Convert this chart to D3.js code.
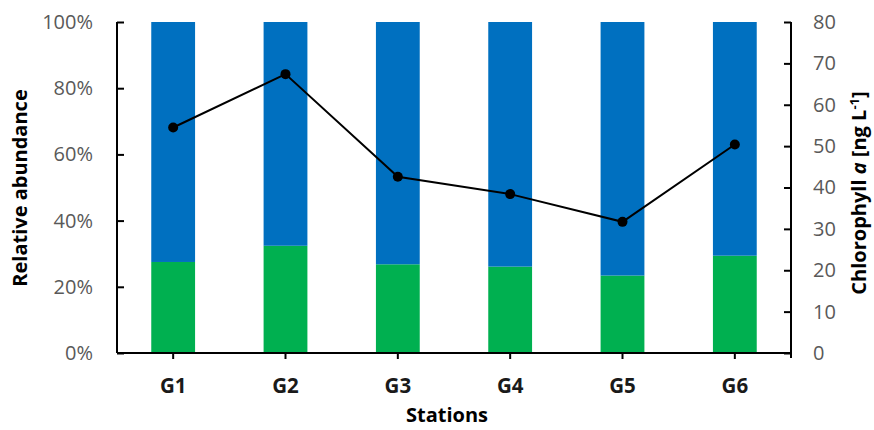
<!DOCTYPE html>
<html>
<head>
<meta charset="utf-8">
<script src="https://cdn.jsdelivr.net/npm/d3@7"></script>
<style>
  html, body { margin: 0; padding: 0; background: #fff; }
  svg { display: block; font-family: "Open Sans", Lato, sans-serif; }
</style>
</head>
<body>
<svg id="chart" width="874" height="430"></svg>
<script>
// Stations sampled
const stations = ["G1", "G2", "G3", "G4", "G5", "G6"];
// Relative abundance of the lower (green) group, in %
const greenShare = [27.5, 32.4, 26.8, 26.1, 23.4, 29.4];
// Remaining share (blue group), in %
const blueShare = greenShare.map(v => 100 - v);
// Chlorophyll a concentration, ng L-1
const chlA = [54.5, 67.4, 42.6, 38.4, 31.7, 50.4];
// Axis ticks
const leftTicks = [0, 20, 40, 60, 80, 100];
const rightTicks = [0, 10, 20, 30, 40, 50, 60, 70, 80];

const svg = d3.select("#chart");
const plotL = 117, plotR = 791, plotT = 22, plotB = 353;
const font = "'Open Sans', Lato, sans-serif";

const x = d3.scaleBand().domain(stations).range([plotL, plotR]).paddingInner(0.61).paddingOuter(0.305);
const yL = d3.scaleLinear().domain([0, 100]).range([plotB, plotT]);
const yR = d3.scaleLinear().domain([0, 80]).range([plotB, plotT]);

const green = "#00B050", blue = "#0070C0", tickColor = "#595959";

// stacked bars
const rows = stations.map((s, i) => ({ s, g: greenShare[i], b: blueShare[i] }));
svg.append("g").selectAll("rect").data(rows).join("rect")
  .attr("x", d => x(d.s)).attr("width", x.bandwidth())
  .attr("y", d => yL(d.g)).attr("height", d => yL(0) - yL(d.g))
  .attr("fill", green);
svg.append("g").selectAll("rect").data(rows).join("rect")
  .attr("x", d => x(d.s)).attr("width", x.bandwidth())
  .attr("y", d => yL(d.g + d.b)).attr("height", d => yL(d.g) - yL(d.g + d.b))
  .attr("fill", blue);

// left axis: ticks point inward
const axL = svg.append("g").attr("transform", `translate(${plotL},0)`)
  .call(d3.axisLeft(yL).tickValues(leftTicks).tickFormat(d => d + "%").tickSizeInner(-7).tickSizeOuter(0).tickPadding(24));
// right axis: ticks point inward
const axR = svg.append("g").attr("transform", `translate(${plotR},0)`)
  .call(d3.axisRight(yR).tickValues(rightTicks).tickSizeInner(-7).tickSizeOuter(0).tickPadding(22));
// bottom axis
const axB = svg.append("g").attr("transform", `translate(0,${plotB})`)
  .call(d3.axisBottom(x).tickSizeInner(6).tickSizeOuter(0).tickPadding(19));

[axL, axR, axB].forEach(a => {
  a.select(".domain").attr("stroke", "#000").attr("stroke-width", 2);
  a.selectAll(".tick line").attr("stroke", "#000").attr("stroke-width", 2);
  a.selectAll(".tick text").attr("fill", tickColor).attr("font-size", 20).attr("font-family", font);
});
axL.select(".domain").attr("d", `M0,${plotT}V${plotB}`);
axR.select(".domain").attr("d", `M0,${plotT}V${plotB + 5}`);
axB.select(".domain").attr("d", `M${plotL},0H${plotR}`);
axB.selectAll(".tick text").attr("fill", "#1a1a1a").attr("font-weight", "bold").attr("font-size", 20.5);

// chlorophyll line
const line = d3.line().x((d, i) => x(stations[i]) + x.bandwidth() / 2).y(d => yR(d));
svg.append("path").datum(chlA).attr("d", line)
  .attr("fill", "none").attr("stroke", "#000").attr("stroke-width", 2);
svg.append("g").selectAll("circle").data(chlA).join("circle")
  .attr("cx", (d, i) => x(stations[i]) + x.bandwidth() / 2)
  .attr("cy", d => yR(d)).attr("r", 5).attr("fill", "#000");

// axis titles
svg.append("text").attr("transform", "translate(27,188) rotate(-90)")
  .attr("text-anchor", "middle").attr("font-weight", "bold").attr("font-size", 20)
  .attr("font-family", font).attr("fill", "#000").text("Relative abundance");

svg.append("text").attr("x", 447).attr("y", 422)
  .attr("text-anchor", "middle").attr("font-weight", "bold").attr("font-size", 20)
  .attr("font-family", font).attr("fill", "#000").text("Stations");

const rt = svg.append("text").attr("transform", "translate(866,193) rotate(-90)")
  .attr("text-anchor", "middle").attr("font-weight", "bold").attr("font-size", 20)
  .attr("font-family", font).attr("fill", "#000");
rt.append("tspan").text("Chlorophyll ");
rt.append("tspan").attr("font-style", "italic").text("a");
rt.append("tspan").text(" [ng L");
rt.append("tspan").attr("font-size", 13).attr("dy", -7).text("-1");
rt.append("tspan").attr("dy", 7).text("]");
</script>
</body>
</html>
